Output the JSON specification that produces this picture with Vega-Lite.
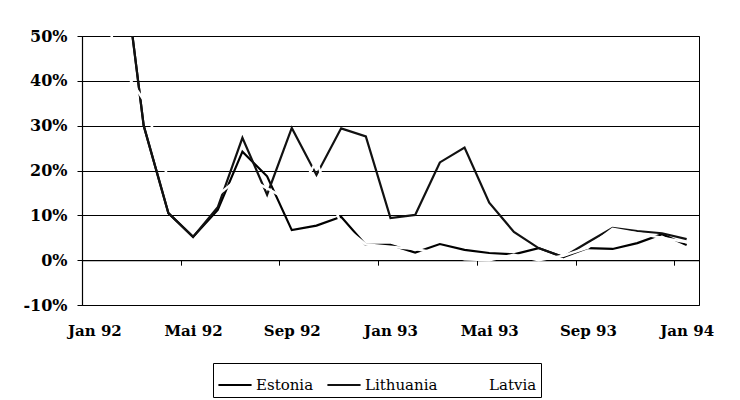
{
  "$schema": "https://vega.github.io/schema/vega-lite/v6.json",
  "width": 617,
  "height": 269,
  "autosize": "none",
  "padding": {"left": 82, "top": 36, "right": 41, "bottom": 95},
  "background": "white",
  "datasets": {
    "rows": [
      {"month": "Jan 92", "country": "Estonia", "value": 87},
      {"month": "Feb 92", "country": "Estonia", "value": 74},
      {"month": "Mär 92", "country": "Estonia", "value": 30},
      {"month": "Apr 92", "country": "Estonia", "value": 10.5},
      {"month": "Mai 92", "country": "Estonia", "value": 5.2},
      {"month": "Jun 92", "country": "Estonia", "value": 11.2},
      {"month": "Jul 92", "country": "Estonia", "value": 24.2},
      {"month": "Aug 92", "country": "Estonia", "value": 18.7},
      {"month": "Sep 92", "country": "Estonia", "value": 6.7},
      {"month": "Okt 92", "country": "Estonia", "value": 7.7},
      {"month": "Nov 92", "country": "Estonia", "value": 9.7},
      {"month": "Dez 92", "country": "Estonia", "value": 3.4},
      {"month": "Jan 93", "country": "Estonia", "value": 3.4},
      {"month": "Feb 93", "country": "Estonia", "value": 1.7},
      {"month": "Mär 93", "country": "Estonia", "value": 3.6},
      {"month": "Apr 93", "country": "Estonia", "value": 2.3},
      {"month": "Mai 93", "country": "Estonia", "value": 1.6},
      {"month": "Jun 93", "country": "Estonia", "value": 1.3},
      {"month": "Jul 93", "country": "Estonia", "value": 2.7},
      {"month": "Aug 93", "country": "Estonia", "value": 0.7},
      {"month": "Sep 93", "country": "Estonia", "value": 2.7},
      {"month": "Okt 93", "country": "Estonia", "value": 2.5},
      {"month": "Nov 93", "country": "Estonia", "value": 3.8},
      {"month": "Dez 93", "country": "Estonia", "value": 5.8},
      {"month": "Jan 94", "country": "Estonia", "value": 3.4},
      {"month": "Jan 92", "country": "Lithuania", "value": 87},
      {"month": "Feb 92", "country": "Lithuania", "value": 74},
      {"month": "Mär 92", "country": "Lithuania", "value": 30},
      {"month": "Apr 92", "country": "Lithuania", "value": 10.5},
      {"month": "Mai 92", "country": "Lithuania", "value": 5.2},
      {"month": "Jun 92", "country": "Lithuania", "value": 11.8},
      {"month": "Jul 92", "country": "Lithuania", "value": 27.3},
      {"month": "Aug 92", "country": "Lithuania", "value": 14.6},
      {"month": "Sep 92", "country": "Lithuania", "value": 29.5},
      {"month": "Okt 92", "country": "Lithuania", "value": 19},
      {"month": "Nov 92", "country": "Lithuania", "value": 29.4},
      {"month": "Dez 92", "country": "Lithuania", "value": 27.6},
      {"month": "Jan 93", "country": "Lithuania", "value": 9.4},
      {"month": "Feb 93", "country": "Lithuania", "value": 10.1},
      {"month": "Mär 93", "country": "Lithuania", "value": 21.8},
      {"month": "Apr 93", "country": "Lithuania", "value": 25.1},
      {"month": "Mai 93", "country": "Lithuania", "value": 12.8},
      {"month": "Jun 93", "country": "Lithuania", "value": 6.3},
      {"month": "Jul 93", "country": "Lithuania", "value": 2.7},
      {"month": "Aug 93", "country": "Lithuania", "value": 0.7},
      {"month": "Sep 93", "country": "Lithuania", "value": 4.0},
      {"month": "Okt 93", "country": "Lithuania", "value": 7.2},
      {"month": "Nov 93", "country": "Lithuania", "value": 6.5},
      {"month": "Dez 93", "country": "Lithuania", "value": 6.0},
      {"month": "Jan 94", "country": "Lithuania", "value": 4.7},
      {"month": "Jan 92", "country": "Latvia", "value": 64},
      {"month": "Feb 92", "country": "Latvia", "value": 44},
      {"month": "Mär 92", "country": "Latvia", "value": 35.7},
      {"month": "Apr 92", "country": "Latvia", "value": 18},
      {"month": "Mai 92", "country": "Latvia", "value": 14},
      {"month": "Jun 92", "country": "Latvia", "value": 14.5},
      {"month": "Jul 92", "country": "Latvia", "value": 19},
      {"month": "Aug 92", "country": "Latvia", "value": 16},
      {"month": "Sep 92", "country": "Latvia", "value": 13},
      {"month": "Okt 92", "country": "Latvia", "value": 22},
      {"month": "Nov 92", "country": "Latvia", "value": 8},
      {"month": "Dez 92", "country": "Latvia", "value": 3.5},
      {"month": "Jan 93", "country": "Latvia", "value": 3.0},
      {"month": "Feb 93", "country": "Latvia", "value": 2.5},
      {"month": "Mär 93", "country": "Latvia", "value": 1.5},
      {"month": "Apr 93", "country": "Latvia", "value": 0.2},
      {"month": "Mai 93", "country": "Latvia", "value": 0.0},
      {"month": "Jun 93", "country": "Latvia", "value": 1.2},
      {"month": "Jul 93", "country": "Latvia", "value": 0.0},
      {"month": "Aug 93", "country": "Latvia", "value": 1.0},
      {"month": "Sep 93", "country": "Latvia", "value": 2.8},
      {"month": "Okt 93", "country": "Latvia", "value": 7.0},
      {"month": "Nov 93", "country": "Latvia", "value": 6.0},
      {"month": "Dez 93", "country": "Latvia", "value": 5.0},
      {"month": "Jan 94", "country": "Latvia", "value": 4.0}
    ]
  },
  "data": {"name": "rows"},
  "encoding": {
    "x": {
      "field": "month",
      "type": "ordinal",
      "sort": null,
      "scale": {"type": "point", "padding": 0.5},
      "axis": {
        "title": null,
        "values": ["Jan 92", "Mai 92", "Sep 92", "Jan 93", "Mai 93", "Sep 93", "Jan 94"],
        "labelAngle": 0,
        "grid": false,
        "tickOffset": -12.34,
        "labelOffset": 12.34,
        "tickSize": 5,
        "offset": -44.83,
        "labelPadding": 58,
        "labelFontSize": 15
      }
    },
    "y": {
      "field": "value",
      "type": "quantitative",
      "scale": {"domain": [-10, 50], "nice": false, "zero": false},
      "axis": {
        "title": null,
        "values": [-10, 0, 10, 20, 30, 40, 50],
        "labelExpr": "datum.value + '%'",
        "grid": true,
        "tickSize": 5,
        "labelPadding": 10,
        "labelFontSize": 16
      }
    },
    "color": {
      "field": "country",
      "type": "nominal",
      "scale": {"domain": ["Estonia", "Lithuania", "Latvia"], "range": ["black", "#111111", "white"]},
      "legend": {"title": null}
    }
  },
  "layer": [
    {
      "transform": [{"filter": "datum.country != 'Latvia'"}],
      "mark": {"type": "line", "clip": true, "strokeWidth": 2.2}
    },
    {
      "transform": [{"filter": "datum.country == 'Latvia'"}],
      "mark": {"type": "line", "clip": true, "strokeWidth": 2.5}
    }
  ],
  "config": {
    "font": "DejaVu Serif",
    "view": {"stroke": "black", "strokeWidth": 1},
    "axis": {
      "domainColor": "black",
      "tickColor": "black",
      "gridColor": "black",
      "gridOpacity": 1,
      "labelColor": "black",
      "labelFont": "DejaVu Serif",
      "labelFontWeight": "bold",
      "domainWidth": 1.2,
      "tickWidth": 1
    },
    "legend": {
      "orient": "none",
      "legendX": 131,
      "legendY": 327,
      "direction": "horizontal",
      "strokeColor": "black",
      "fillColor": "white",
      "padding": 4,
      "symbolType": "stroke",
      "symbolStrokeWidth": 2,
      "symbolSize": 1100,
      "labelFont": "DejaVu Serif",
      "labelFontSize": 15,
      "labelColor": "black",
      "labelOffset": 3,
      "columnPadding": 9
    }
  }
}
